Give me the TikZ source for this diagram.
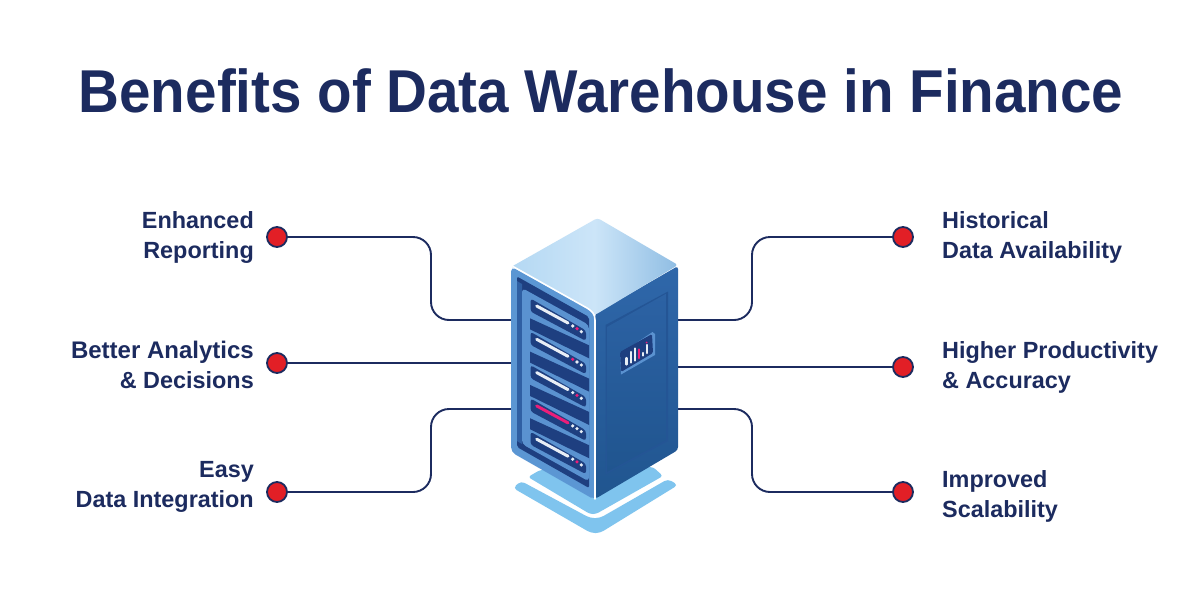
\documentclass[tikz,border=0pt]{standalone}
\usepackage{fontspec}
\setmainfont{Liberation Sans}[BoldFont={Liberation Sans Bold}]
\newfontfamily\titlefont[FakeStretch=0.935]{Liberation Sans Bold}
\usetikzlibrary{calc}
\definecolor{navy}{HTML}{1C2B5F}
\definecolor{dotred}{HTML}{E21F26}
\definecolor{facelight}{HTML}{5B96D3}
\definecolor{rackdark}{HTML}{1E3F80}
\definecolor{strip}{HTML}{2F5FA3}
\definecolor{panel}{HTML}{5A92D0}
\definecolor{basec}{HTML}{7FC4EE}
\definecolor{doorc}{HTML}{2C62A4}
\definecolor{doorline}{HTML}{245595}
\definecolor{pinkc}{HTML}{EC1E79}
\definecolor{rfdark}{HTML}{20558F}
\definecolor{rflight}{HTML}{2F67AA}
\definecolor{topa}{HTML}{B4D8F3}
\definecolor{topb}{HTML}{CCE5F8}
\definecolor{topc}{HTML}{8FBDE3}
\definecolor{barlight}{HTML}{E8EEF6}
\tikzset{
  lbl/.style={inner sep=0pt,font=\bfseries\fontsize{23.4}{30}\selectfont,text=navy},
  lblL/.style={lbl,anchor=east,align=right},
  lblR/.style={lbl,anchor=west,align=left},
  dotn/.style={circle,draw=navy,fill=dotred,line width=1.8pt,minimum size=20pt,inner sep=0pt},
  conn/.style={draw=navy,line width=1.9pt,rounded corners=18pt},
  barw/.style={line width=3pt,line cap=round,draw=barlight},
  dbar/.style={line width=2.2pt,line cap=round}
}
\begin{document}
\begin{tikzpicture}[x=1pt,y=-1pt]
\useasboundingbox (0,0) rectangle (1200,600);
\fill[white] (0,0) rectangle (1200,600);
\node[inner sep=0pt,anchor=base,text=navy,font=\titlefont\fontsize{60.5}{70}\selectfont] (title) at (601,112) {Benefits of Data Warehouse in Finance};

% server anchors
\coordinate (sL1) at (512,320);
\coordinate (sL2) at (512,363);
\coordinate (sL3) at (512,409);
\coordinate (sR1) at (677,320);
\coordinate (sR2) at (677,367);
\coordinate (sR3) at (677,409);

% dots
\node[dotn] (dL1) at (277,237) {};
\node[dotn] (dL2) at (277,363) {};
\node[dotn] (dL3) at (277,492) {};
\node[dotn] (dR1) at (903,237) {};
\node[dotn] (dR2) at (903,367) {};
\node[dotn] (dR3) at (903,492) {};

% connectors
\draw[conn] (dL1) -- (431,237) -- (431,320) -- (sL1);
\draw[conn] (dL2) -- (sL2);
\draw[conn] (dL3) -- (431,492) -- (431,409) -- (sL3);
\draw[conn] (dR1) -- (752,237) -- (752,320) -- (sR1);
\draw[conn] (dR2) -- (sR2);
\draw[conn] (dR3) -- (752,492) -- (752,409) -- (sR3);

% labels
\node[lblL] (tL1) at (254,237) {Enhanced\\Reporting};
\node[lblL] (tL2) at (254,365) {{\fontsize{24}{30}\selectfont Better Analytics\hspace{7pt}}\\\& Decisions};
\node[lblL] (tL3) at (254,487) {Easy\\Data Integration};
\node[lblR] (tR1) at (942,237) {Historical\\Data Availability};
\node[lblR] (tR2) at (942,367) {Higher Productivity\\\& Accuracy};
\node[lblR] (tR3) at (942,496) {Improved\\Scalability};

% base
\fill[basec,rounded corners=3pt] (528,477) -- (540,470) -- (653,467) -- (663,476) -- (596,514) -- (590,514) -- cycle;
\fill[basec,rounded corners=4pt] (513,488) -- (521,481) -- (590,518) -- (600,518) -- (668,479) -- (678,485) -- (600,533) -- (591,533) -- cycle;

% right face
\shade[bottom color=rfdark,top color=rflight,rounded corners=3pt] (595,314) -- (678,266) -- (678,450) -- (595,499) -- cycle;
% door
\fill[doorline] (605.5,325) -- (668,291.5) -- (668,441) -- (605.5,474.5) -- cycle;
\shade[bottom color=rfdark,top color=doorc] (607,327) -- (666.5,293.5) -- (666.5,439.5) -- (607,472) -- cycle;
% display
\fill[panel] (620,354) -- (652.5,332) -- (655,334) -- (655,355) -- (621,374.5) -- cycle;
\fill[rackdark,rounded corners=1.5pt] (620,352) -- (652,334) -- (653,353) -- (621,372) -- cycle;
\foreach \bx/\bt/\bb/\bc in {626.5/358/364.5/barlight,630.7/352/362.5/barlight,634.7/348.5/360.5/barlight,638.7/349.5/358/pinkc,642.7/353/355.5/barlight,646.7/345/353/barlight}
  \draw[dbar,draw=\bc] (\bx,\bt) -- (\bx,\bb);
\fill[pinkc] (646.7,342.5) circle (1pt);

% top face
\shade[left color=topa,right color=topc,middle color=topb,rounded corners=3pt] (597.5,218) -- (678,265) -- (595,315) -- (511,267) -- cycle;

% left face
\fill[facelight,rounded corners=5pt] (511,266.5) -- (595,313) -- (595,500) -- (511,452) -- cycle;
% rack recess
\fill[rackdark,rounded corners=2pt] (517,276.5) -- (589,317) -- (589,488) -- (517,447) -- cycle;
\fill[strip] (517,281) -- (522,284) -- (522,444) -- (517,441) -- cycle;
% panel
\fill[panel,rounded corners=4pt] (522,288) -- (589,325) -- (589,481.5) -- (522,444) -- cycle;
% slots
\foreach \k/\tone/\ca/\cb/\cc in {
  0/barlight/barlight/pinkc/barlight,
  1/barlight/pinkc/barlight/barlight,
  2/barlight/barlight/pinkc/barlight,
  3/pinkc/barlight/barlight/barlight,
  4/barlight/barlight/pinkc/barlight}{
  \begin{scope}[yshift=-33.3*\k pt]
    \ifnum\k>0
      \fill[rackdark] (530,285) -- (589,312) -- (589,325) -- (530,296) -- cycle;
    \fi
    \fill[rackdark,rounded corners=3pt] (530.5,298.5) -- (586,330.5) -- (586,341) -- (530.5,311.5) -- cycle;
    \draw[barw,draw=\tone] (536.7,306) -- (568,323);
    \fill[\ca] (572.7,326) circle (1.8pt);
    \fill[\cb] (577,328.7) circle (1.8pt);
    \fill[\cc] (581.3,331.7) circle (1.8pt);
  \end{scope}
}
% white edge
\draw[white,line width=1.6pt,line cap=round] (513,266.5) -- (587,308) .. controls (592,311) and (595,314) .. (595,320) -- (595,499);
\end{tikzpicture}
\end{document}
